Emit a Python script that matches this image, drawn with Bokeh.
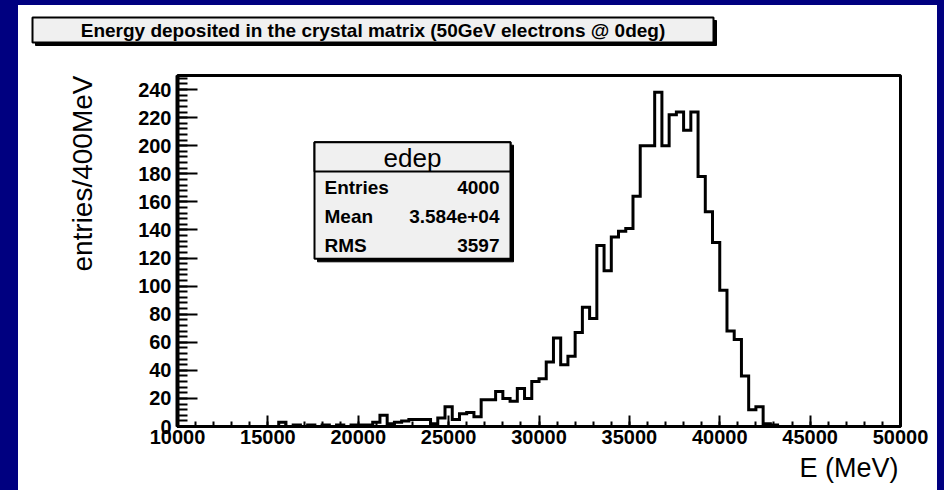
import numpy as np
from bokeh.plotting import figure
from bokeh.layouts import column
from bokeh.core.properties import value
from bokeh.models import Range1d, SingleIntervalTicker, BoxAnnotation, Label, Title
from bokeh.embed import file_html
from bokeh.resources import INLINE

# ---- histogram "edep": 100 bins of 400 MeV between 10 and 50 GeV ----
E_MIN, E_MAX, BIN_WIDTH = 10000, 50000, 400
counts = [
    0, 0, 0, 0, 0, 0, 0, 0, 0, 0,              # 10000 - 13600
    0, 0, 0, 0, 3, 0, 1, 0, 1, 0,              # 14000 - 17600
    1, 0, 1, 0, 1, 1, 1, 3, 8, 2,              # 18000 - 21600
    3, 4, 5, 5, 5, 2, 6, 14, 5, 9,             # 22000 - 25600
    10, 7, 19, 19, 25, 20, 18, 27, 20, 32,     # 26000 - 29600
    34, 46, 63, 44, 50, 67, 85, 77, 129, 111,  # 30000 - 33600
    135, 139, 141, 164, 200, 200, 238, 200, 222, 224,  # 34000 - 37600
    211, 224, 178, 153, 131, 97, 68, 62, 36, 12,       # 38000 - 41600
    14, 2, 1, 0, 0, 0, 0, 0, 0, 0,             # 42000 - 45600
    0, 0, 0, 0, 0, 0, 0, 0, 0, 0,              # 46000 - 49600
]
hist_name = "edep"
stat_labels = ["Entries", "Mean", "RMS"]
stat_values = ["4000", "3.584e+04", "3597"]
title_text = "Energy deposited in the crystal matrix (50GeV electrons @ 0deg)"
x_title = "E (MeV)"
y_title = "entries/400MeV"
Y_MAX = 250

edges = np.arange(E_MIN, E_MAX + BIN_WIDTH, BIN_WIDTH)
step_y = list(counts) + [counts[-1]]

FONT = "Liberation Sans"
PAVE_FILL = "#f0f0f0"

# ---- canvas geometry (pixels inside the white panel) ----
PANEL_W, PANEL_H = 919, 485
HEAD_H = 60                      # strip holding the title pave
MAIN_H = PANEL_H - HEAD_H
FRAME_L, FRAME_T, FRAME_W, FRAME_H = 159, 10, 723, 351
FRAME_B = FRAME_T + FRAME_H


def data_x(px):
    return E_MIN + (px - FRAME_L) * (E_MAX - E_MIN) / FRAME_W


def data_y(py):
    return (FRAME_B - py) * Y_MAX / FRAME_H


# ---- title strip: pixel coordinates, y pointing down ----
head = figure(
    width=PANEL_W, height=HEAD_H, title=None,
    x_range=Range1d(0, PANEL_W), y_range=Range1d(HEAD_H, 0),
    x_axis_type=None, y_axis_type=None,
    output_backend="svg", toolbar_location=None, tools="",
    min_border=0, frame_align=False,
)
head.outline_line_color = None
head.background_fill_color = "white"
head.border_fill_color = "white"
head.grid.visible = False

pave_l, pave_t, pave_r, pave_b, shadow = 14, 12, 695, 37, 3
head.quad(left=[pave_l + shadow], right=[pave_r + shadow],
          top=[pave_t + shadow], bottom=[pave_b + shadow],
          fill_color="black", line_color="black")
head.quad(left=[pave_l], right=[pave_r], top=[pave_t], bottom=[pave_b],
          fill_color=PAVE_FILL, line_color="black", line_width=2)
head.text(x=[(pave_l + pave_r) / 2], y=[(pave_t + pave_b) / 2],
          text=[title_text], text_align="center", text_baseline="middle",
          text_font=value(FONT), text_font_style="bold",
          text_font_size=value("19px"), text_color="black")

# ---- histogram figure ----
p = figure(
    width=PANEL_W, height=MAIN_H, title=None,
    x_range=Range1d(E_MIN, E_MAX), y_range=Range1d(0, Y_MAX),
    output_backend="svg", toolbar_location=None, tools="",
    min_border_left=FRAME_L, min_border_top=FRAME_T,
    min_border_right=PANEL_W - FRAME_L - FRAME_W,
    min_border_bottom=MAIN_H - FRAME_B, frame_align=False,
)
p.background_fill_color = "white"
p.border_fill_color = "white"
p.outline_line_color = "black"
p.outline_line_width = 3
p.xgrid.visible = False
p.ygrid.visible = False

xax = p.xaxis[0]
xax.ticker = SingleIntervalTicker(interval=5000, num_minor_ticks=5)
xax.axis_line_width = 3
xax.major_tick_in, xax.major_tick_out = 11, 0
xax.minor_tick_in, xax.minor_tick_out = 5, 0
xax.major_tick_line_width = 2
xax.minor_tick_line_width = 2
xax.major_label_text_font = FONT
xax.major_label_text_font_style = "bold"
xax.major_label_text_font_size = "20px"
xax.major_label_text_color = "black"
xax.major_label_standoff = 3

yax = p.yaxis[0]
yax.ticker = SingleIntervalTicker(interval=20, num_minor_ticks=5)
yax.axis_line_width = 4
yax.major_tick_in, yax.major_tick_out = 20, 0
yax.minor_tick_in, yax.minor_tick_out = 10, 0
yax.major_tick_line_width = 2
yax.minor_tick_line_width = 2
yax.major_label_text_font = FONT
yax.major_label_text_font_style = "bold"
yax.major_label_text_font_size = "20px"
yax.major_label_text_color = "black"
yax.major_label_standoff = 6

# axis titles, right-aligned at the top / right end of their axes
p.add_layout(Title(
    text=y_title, align="right", offset=0, standoff=76,
    text_font=FONT, text_font_style="normal", text_font_size="28px",
    text_color="black",
), "left")
p.add_layout(Title(
    text=x_title, align="right", offset=2, standoff=8,
    vertical_align="bottom",
    text_font=FONT, text_font_style="normal", text_font_size="27px",
    text_color="black",
), "below")

# histogram outline
p.step(edges, step_y, mode="after", line_color="black", line_width=3,
       line_join="miter")


def box(l, t, r, b, fill, line_width=2, line_color="black"):
    return BoxAnnotation(
        left=data_x(l), right=data_x(r), top=data_y(t), bottom=data_y(b),
        fill_color=fill, fill_alpha=1.0, line_color=line_color,
        line_alpha=1.0, line_width=line_width, line_dash="solid",
    )


# statistics box with shadow (pixel positions inside the histogram figure)
sb_l, sb_t, sb_r, sb_b, sb_div = 296, 76.7, 492, 193.3, 106
p.add_layout(box(sb_l + 3, sb_t + 3, sb_r + 3, sb_b + 3, "black", line_width=1))
p.add_layout(box(sb_l, sb_t, sb_r, sb_b, PAVE_FILL))
p.add_layout(box(sb_l, sb_t, sb_r, sb_div, PAVE_FILL))
p.add_layout(Label(
    x=data_x((sb_l + sb_r) / 2), y=data_y((sb_t + sb_div) / 2 + 1),
    text=hist_name, text_align="center", text_baseline="middle",
    text_font=FONT, text_font_size="26px", text_color="black",
))
for row, (lab, val) in enumerate(zip(stat_labels, stat_values)):
    yy = data_y(121.7 + 29.2 * row)
    p.add_layout(Label(
        x=data_x(sb_l + 10), y=yy, text=lab, text_align="left",
        text_baseline="middle", text_font=FONT,
        text_font_style="bold", text_font_size="19px", text_color="black",
    ))
    p.add_layout(Label(
        x=data_x(sb_r - 11), y=yy, text=val, text_align="right",
        text_baseline="middle", text_font=FONT,
        text_font_style="bold", text_font_size="19px", text_color="black",
    ))

# white sheet holding both canvases, framed by the dark blue slide border
sheet = column(head, p, spacing=0, styles={"background-color": "white"})
page = column(sheet, styles={
    "background-color": "#000080",
    "padding": "5px 7px 0px 18px",
})

with open("out.html", "w") as f:
    f.write(file_html(page, INLINE))
